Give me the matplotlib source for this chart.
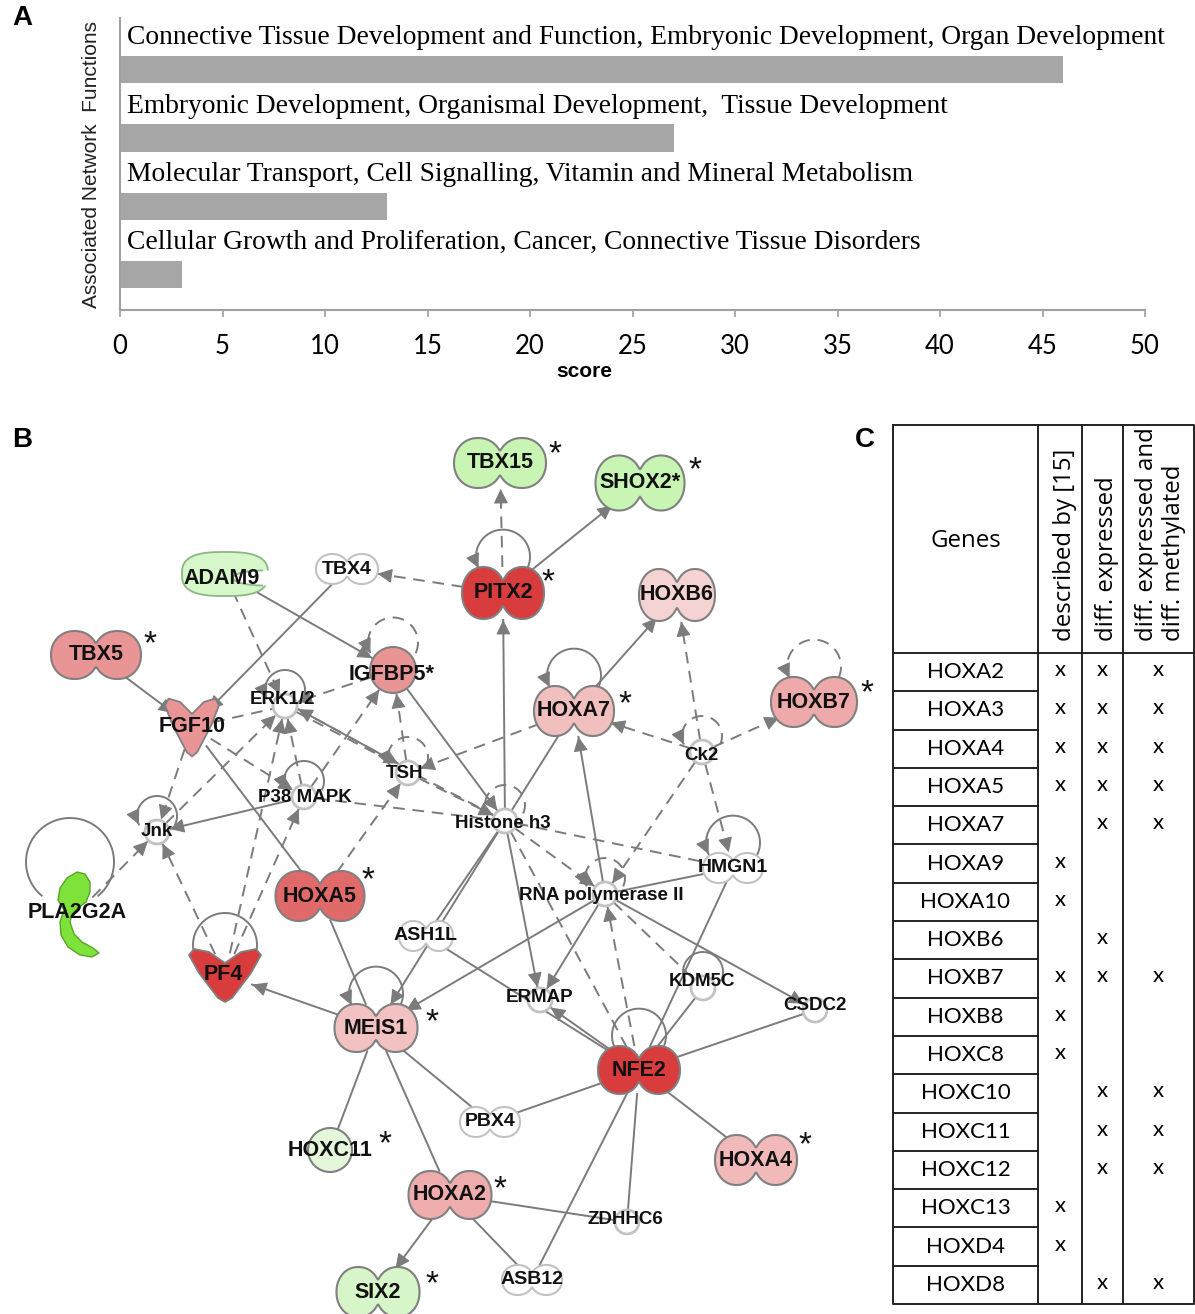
import numpy as np
import matplotlib.pyplot as plt
from matplotlib.patches import Circle, Polygon, Ellipse, Arc, FancyArrowPatch

# ---------------- panel A data ----------------
functions = ["Connective Tissue Development and Function, Embryonic Development, Organ Development",
             "Embryonic Development, Organismal Development,  Tissue Development",
             "Molecular Transport, Cell Signalling, Vitamin and Mineral Metabolism",
             "Cellular Growth and Proliferation, Cancer, Connective Tissue Disorders"]
scores = [46, 27, 13, 3]
score_ticks = [0, 5, 10, 15, 20, 25, 30, 35, 40, 45, 50]

# ---------------- panel B data (network layout in pixel units) ----------------
node_names = ["TBX15", "SHOX2", "ADAM9", "TBX4", "PITX2", "HOXB6", "TBX5", "FGF10",
              "ERK1/2", "IGFBP5", "HOXA7", "HOXB7", "Ck2", "TSH", "P38 MAPK", "Jnk",
              "Histone h3", "HMGN1", "PLA2G2A", "HOXA5", "RNA polymerase II", "ASH1L",
              "PF4", "KDM5C", "ERMAP", "CSDC2", "MEIS1", "NFE2", "PBX4", "HOXC11",
              "HOXA4", "HOXA2", "ZDHHC6", "SIX2", "ASB12"]
node_labels = {"SHOX2": "SHOX2*", "IGFBP5": "IGFBP5*"}
node_x = [500, 640, 225, 347, 503, 677, 96, 192,
          285, 393, 574, 814, 702, 408, 304, 157,
          505, 733, 78, 320, 605, 426,
          225, 703, 540, 815, 376, 639, 490, 330,
          756, 450, 627, 378, 532]
node_y = [463, 483, 574, 569, 593, 595, 655, 727,
          706, 670, 711, 702, 752, 773, 797, 832,
          821, 868, 912, 896, 894, 936,
          975, 988, 1000, 1010, 1028, 1070, 1122, 1150,
          1160, 1195, 1222, 1292, 1280]
node_fill = ["#c8f4b4", "#c8f4b4", "#d6f7ca", "white", "#d93c3c", "#f5d3d3", "#ea9595", "#ea9595",
             "white", "#ea9595", "#f2bfbf", "#eeaaaa", "white", "white", "white", "white",
             "white", "white", "#7ee23a", "#e06a6a", "white", "white",
             "#d93c3c", "white", "white", "white", "#f2c2c2", "#d93c3c", "white", "#e4f7da",
             "#f1b9b9", "#eeacac", "white", "#d6f5c8", "white"]
star_nodes = ["TBX15", "SHOX2", "PITX2", "TBX5", "HOXA7", "HOXB7", "HOXA5", "MEIS1",
              "HOXC11", "HOXA4", "HOXA2", "SIX2"]
star_x = [555, 695, 548, 150, 625, 867, 368, 432, 385, 805, 500, 432]
star_y = [447, 463, 575, 637, 697, 686, 873, 1015, 1137, 1138, 1182, 1277]

# (source, target, dashed, arrow)
edges = [("PITX2", "TBX15", 1, 1), ("PITX2", "SHOX2", 0, 1), ("PITX2", "TBX4", 1, 1),
         ("Histone h3", "PITX2", 0, 1), ("HOXA7", "HOXB6", 0, 1), ("Ck2", "HOXB6", 1, 1),
         ("Ck2", "HOXA7", 1, 1), ("Ck2", "HOXB7", 1, 1), ("Ck2", "HMGN1", 1, 1),
         ("Ck2", "RNA polymerase II", 1, 1), ("HOXA7", "TSH", 1, 1), ("HOXA7", "Histone h3", 0, 0),
         ("RNA polymerase II", "HOXA7", 0, 1), ("IGFBP5", "Histone h3", 0, 1),
         ("ADAM9", "IGFBP5", 0, 1), ("ADAM9", "ERK1/2", 1, 1), ("TBX4", "FGF10", 0, 1),
         ("TBX5", "FGF10", 0, 1), ("FGF10", "ERK1/2", 1, 0), ("FGF10", "Jnk", 1, 1),
         ("FGF10", "P38 MAPK", 1, 1), ("HOXA5", "FGF10", 0, 0), ("IGFBP5", "ERK1/2", 1, 1),
         ("TSH", "ERK1/2", 0, 1), ("ERK1/2", "TSH", 1, 1), ("P38 MAPK", "ERK1/2", 1, 1),
         ("P38 MAPK", "Jnk", 0, 1), ("P38 MAPK", "IGFBP5", 1, 1), ("TSH", "IGFBP5", 1, 1),
         ("TSH", "Histone h3", 1, 1), ("P38 MAPK", "Histone h3", 1, 0), ("Jnk", "ERK1/2", 1, 1),
         ("PLA2G2A", "Jnk", 1, 1), ("PF4", "Jnk", 1, 1), ("PF4", "ERK1/2", 1, 1),
         ("PF4", "P38 MAPK", 1, 1), ("HOXA5", "TSH", 1, 1), ("HOXA5", "MEIS1", 0, 0),
         ("MEIS1", "PF4", 0, 1), ("Histone h3", "MEIS1", 0, 1), ("Histone h3", "ASH1L", 0, 0),
         ("ASH1L", "NFE2", 0, 0), ("RNA polymerase II", "MEIS1", 0, 1),
         ("Histone h3", "ERMAP", 0, 1), ("RNA polymerase II", "ERMAP", 0, 1),
         ("NFE2", "ERMAP", 0, 1), ("NFE2", "RNA polymerase II", 1, 1), ("Histone h3", "NFE2", 1, 0),
         ("NFE2", "KDM5C", 0, 0), ("HMGN1", "NFE2", 0, 0), ("NFE2", "CSDC2", 0, 0),
         ("NFE2", "PBX4", 0, 0), ("NFE2", "HOXA4", 0, 0), ("NFE2", "ZDHHC6", 0, 0),
         ("NFE2", "ASB12", 0, 0), ("RNA polymerase II", "CSDC2", 0, 1),
         ("RNA polymerase II", "KDM5C", 1, 0), ("RNA polymerase II", "HMGN1", 0, 0),
         ("Histone h3", "HMGN1", 1, 0), ("Histone h3", "RNA polymerase II", 1, 1),
         ("MEIS1", "PBX4", 0, 0), ("MEIS1", "HOXC11", 0, 0), ("MEIS1", "HOXA2", 0, 0),
         ("HOXA2", "SIX2", 0, 1), ("HOXA2", "ZDHHC6", 0, 0), ("HOXA2", "ASB12", 0, 0),
         ("ERK1/2", "Histone h3", 1, 0)]

# self loops: (node, dashed, arrow)
loops = [("PITX2", 0, 1), ("HOXA7", 0, 1), ("HOXB7", 1, 1), ("IGFBP5", 1, 1), ("ERK1/2", 0, 1),
         ("TSH", 1, 1), ("P38 MAPK", 0, 1), ("Jnk", 0, 1), ("Ck2", 1, 1), ("Histone h3", 1, 0),
         ("RNA polymerase II", 1, 1), ("HMGN1", 0, 1), ("KDM5C", 0, 0), ("NFE2", 0, 0),
         ("MEIS1", 0, 1), ("PLA2G2A", 0, 0), ("PF4", 0, 0)]

# ---------------- panel C data ----------------
genes = ["HOXA2", "HOXA3", "HOXA4", "HOXA5", "HOXA7", "HOXA9", "HOXA10", "HOXB6", "HOXB7",
         "HOXB8", "HOXC8", "HOXC10", "HOXC11", "HOXC12", "HOXC13", "HOXD4", "HOXD8"]
described = [1, 1, 1, 1, 0, 1, 1, 0, 1, 1, 1, 0, 0, 0, 1, 1, 0]
diff_expr = [1, 1, 1, 1, 1, 0, 0, 1, 1, 0, 0, 1, 1, 1, 0, 0, 1]
diff_expr_meth = [1, 1, 1, 1, 1, 0, 0, 0, 1, 0, 0, 1, 1, 1, 0, 0, 1]
col_titles = ["described by [15]", "diff. expressed", "diff. expressed and\ndiff. methylated"]

# ---------------- styles ----------------
node_shape = {"TBX15": ("dumb", 92, 50), "SHOX2": ("dumb", 89, 55), "ADAM9": ("adam", 86, 44),
              "TBX4": ("dumb", 62, 30), "PITX2": ("dumb", 82, 52), "HOXB6": ("dumb", 76, 52),
              "TBX5": ("dumb", 90, 48), "FGF10": ("v", 54, 60), "IGFBP5": ("circ", 23, 23),
              "HOXA7": ("dumb", 80, 50), "HOXB7": ("dumb", 86, 50), "HMGN1": ("dumb", 60, 30),
              "PLA2G2A": ("pla", 40, 80), "HOXA5": ("dumb", 89, 50), "ASH1L": ("dumb", 54, 30),
              "PF4": ("v", 72, 55), "MEIS1": ("dumb", 83, 48), "NFE2": ("dumb", 82, 48),
              "PBX4": ("dumb", 60, 30), "HOXC11": ("circ", 22, 22), "HOXA4": ("dumb", 82, 50),
              "HOXA2": ("dumb", 83, 48), "SIX2": ("dumb", 83, 50), "ASB12": ("dumb", 60, 30)}
label_shift = {"ERK1/2": (-2, -6), "TSH": (-3, 1), "P38 MAPK": (1, 1), "Histone h3": (-2, 2),
               "Ck2": (-1, 3), "RNA polymerase II": (-4, 2), "KDM5C": (-1, -6), "ERMAP": (0, -3),
               "CSDC2": (0, -5), "ZDHHC6": (-2, -2), "ADAM9": (-3, 4), "PLA2G2A": (-1, 0),
               "IGFBP5": (-1, 5), "PF4": (-2, 0), "FGF10": (0, -1)}
EDGE = "#7b7b7b"
OUTL = "#808080"
WOUTL = "#c2c2c2"
SANS = "Liberation Sans"

fig = plt.figure(figsize=(11.95, 13.14), dpi=100)

# ================= panels B and C on a pixel canvas =================
ax = fig.add_axes([0, 0, 1, 1])
ax.set_xlim(0, 1195)
ax.set_ylim(1314, 0)
ax.axis("off")

idx = {n: i for i, n in enumerate(node_names)}


def shape_of(n):
    return node_shape.get(n, ("circ", 12, 12))


def extent(n, ux, uy):
    kind, w, h = shape_of(n)
    if kind == "circ":
        return w
    a, b = w / 2, h / 2
    if kind in ("v", "pla", "adam"):
        a, b = a * 0.8, b * 0.8
    return a * b / np.hypot(b * ux, a * uy)


def superellipse(x, y, w, h, n):
    t = np.linspace(0, 2 * np.pi, 200)
    c, s = np.cos(t), np.sin(t)
    px = w / 2 * np.sign(c) * np.abs(c) ** (2 / n)
    py = h / 2 * np.sign(s) * np.abs(s) ** (2 / n)
    return np.c_[px + x, py + y]


def dumbbell(x, y, w, h, n=2.1, k=8):
    # two rounded lobes merged with a smooth waist
    b = h / 2
    a = w / 2 / 1.9
    dx = w / 2 - a
    xs = w / 2 * np.sin(np.linspace(-np.pi / 2, np.pi / 2, 181))
    lobes = []
    for cx in (-dx, dx):
        t = np.clip(1 - np.abs((xs - cx) / a) ** n, 0, None)
        lobes.append(b * t ** (1 / n))
    top = (lobes[0] ** k + lobes[1] ** k) ** (1 / k)
    top = np.minimum(top, b)
    pts = np.concatenate([np.c_[xs, -top], np.c_[xs[::-1], top[::-1]]])
    return pts + np.array([x, y])


def arrowhead(tip, u):
    tail = tip - u * 12
    ax.add_patch(FancyArrowPatch(tuple(tail), tuple(tip),
                                 arrowstyle="-|>,head_length=0.65,head_width=0.32",
                                 mutation_scale=14, color=EDGE, lw=0.8,
                                 shrinkA=0, shrinkB=0, zorder=2))


pair_count = {}
for s, d, _, _ in edges:
    k = frozenset((s, d))
    pair_count[k] = pair_count.get(k, 0) + 1
pair_seen = {}

for s, d, dashed, arrow in edges:
    p = np.array([node_x[idx[s]], node_y[idx[s]]], float)
    q = np.array([node_x[idx[d]], node_y[idx[d]]], float)
    u = (q - p) / np.linalg.norm(q - p)
    k = frozenset((s, d))
    if pair_count[k] > 1:
        sign = 1 if pair_seen.get(k, 0) == 0 else -1
        pair_seen[k] = 1
        nrm = np.array([-u[1], u[0]]) * 3.5 * sign
        p, q = p + nrm, q + nrm
    a = p + u * extent(s, *u)
    b = q - u * (extent(d, *u) + 1)
    ls = (0, (6, 4)) if dashed else "-"
    ax.plot([a[0], b[0]], [a[1], b[1]], color=EDGE, lw=1.4, ls=ls, zorder=1)
    if arrow:
        arrowhead(b, u)

for n, dashed, arrow in loops:
    kind, w, h = shape_of(n)
    x, y = node_x[idx[n]], node_y[idx[n]]
    t0, t1 = -25, 205
    if kind == "dumb":
        r = 27
        off = h / 2 + 0.42 * r - 1
    elif kind == "circ" and w > 15:
        r = 25
        off = w + 0.42 * r - 6
    elif kind == "pla":
        r, off = 44, 50
        x -= 8
        t0, t1 = -50, 230
    elif kind == "v":
        r, off = 32, 30
    else:
        r, off = 20, 16
    cx, cy = x, y - off
    t = np.radians(np.linspace(t0, t1, 80))
    px, py = cx + r * np.cos(t), cy - r * np.sin(t)
    ls = (0, (6, 4)) if dashed else "-"
    ax.plot(px, py, color=EDGE, lw=1.4, ls=ls, zorder=1)
    if arrow:
        tip = np.array([px[-1], py[-1]])
        tv = np.array([-np.sin(t[-1]), -np.cos(t[-1])])
        arrowhead(tip, tv / np.linalg.norm(tv))

v_poly = np.array([(-36, -20), (-31, -26), (-16, -23), (0, -12), (16, -23), (31, -26),
                   (36, -20), (26, -2), (7, 23), (0, 27), (-7, 23), (-26, -2)], float)
pla_poly = np.array([(-1, -40), (7, -38), (12, -30), (12, -20), (8, -10), (0, -4), (-6, 2),
                     (-8, 10), (-4, 22), (4, 30), (15, 36), (21, 41), (14, 45), (2, 43),
                     (-10, 35), (-17, 23), (-18, 10), (-14, -2), (-20, -12), (-18, -24),
                     (-11, -34)], float)

for i, n in enumerate(node_names):
    x, y, fc = node_x[i], node_y[i], node_fill[i]
    kind, w, h = shape_of(n)
    ec = WOUTL if fc == "white" else OUTL
    if kind == "dumb":
        ax.add_patch(Polygon(dumbbell(x, y, w, h), closed=True, fc=fc, ec=ec, lw=1.5, zorder=3))
    elif kind == "circ":
        ax.add_patch(Circle((x, y), w, fc=fc, ec=ec, lw=1.5 if w > 15 else 2.0, zorder=3))
    elif kind == "v":
        pts = v_poly * np.array([w / 72, h / 55]) + np.array([x, y])
        ax.add_patch(Polygon(pts, closed=True, fc=fc, ec=OUTL, lw=1.3, joinstyle="round", zorder=3))
    elif kind == "adam":
        ax.add_patch(Polygon(superellipse(x, y, w, h, 2.8), closed=True, fc=fc, ec="#8fb585",
                             lw=1.3, zorder=3))
        ax.add_patch(Ellipse((x + 38, y + 4), 60, 15, fc="white", ec="none", zorder=3.1))
        ax.add_patch(Arc((x + 38, y + 4), 60, 15, theta1=90, theta2=270, color="#8fb585",
                         lw=1.3, zorder=3.2))
    elif kind == "pla":
        ax.add_patch(Polygon(pla_poly + np.array([x, y]), closed=True, fc=fc, ec="#5aa32a",
                             lw=1, joinstyle="round", zorder=3))
    dx_l, dy_l = label_shift.get(n, (0, 0))
    if fc == "white" and kind == "circ":
        fs = 13.5
    elif fc == "white":
        fs = 14
    else:
        fs = 15.5
    ax.text(x + dx_l, y + dy_l, node_labels.get(n, n), family=SANS, weight="bold",
            fontsize=fs, ha="center", va="center", color="#111", zorder=5)

for n, sx, sy in zip(star_nodes, star_x, star_y):
    ax.text(sx, sy + 8, "*", family=SANS, fontsize=24, ha="center", va="center", color="#111", zorder=5)

# panel letters
for lt, lx, ly in [("A", 22, 18), ("B", 22, 440), ("C", 865, 440)]:
    ax.text(lx, ly, lt, family=SANS, weight="bold", fontsize=20, ha="center", va="center")

# ---------------- table (panel C) ----------------
tx0, tx1 = 893, 1194
cols = [1038, 1082, 1123]
ty0, thead, ty1 = 425, 653, 1304
rh = (ty1 - thead) / len(genes)
lk = dict(color="#222", lw=1.4, zorder=2)
ax.plot([tx0, tx1, tx1, tx0, tx0], [ty0, ty0, ty1, ty1, ty0], **lk)
ax.plot([tx0, tx1], [thead, thead], **lk)
for cx in cols:
    ax.plot([cx, cx], [ty0, ty1], **lk)
for r in range(1, len(genes)):
    ax.plot([tx0, cols[0]], [thead + r * rh] * 2, **lk)
TF = "Lato"
HF = "Open Sans"
ax.text((tx0 + cols[0]) / 2, 541, "Genes", family=HF, fontsize=17.3, ha="center", va="center")
col_centers = [(cols[0] + cols[1]) / 2, (cols[1] + cols[2]) / 2, (cols[2] + tx1) / 2]
for cx, title, sh in zip(col_centers, col_titles, (5, 5, 2)):
    ax.text(cx + sh, 641, title, family=HF, fontsize=17.3, rotation=90, rotation_mode="anchor",
            ha="left", va="center", multialignment="left", linespacing=1.15)
for r, g in enumerate(genes):
    yc = thead + (r + 0.5) * rh
    ax.text((tx0 + cols[0]) / 2, yc, g, family=TF, fontsize=16, ha="center", va="center")
    for cx, flag in zip(col_centers, (described[r], diff_expr[r], diff_expr_meth[r])):
        if flag:
            ax.text(cx, yc - 2, "x", family=TF, fontsize=16, ha="center", va="center")

# ================= panel A =================
axA = fig.add_axes([120 / 1195, 1 - 310 / 1314, (1145 - 120) / 1195, 292 / 1314])
axA.barh(range(len(scores)), scores, height=0.4, color="#a6a6a6")
axA.set_xlim(0, 50)
axA.set_ylim(3.52, -0.76)
for i, f in enumerate(functions):
    axA.text(0.35, i - 0.47, f, family="Liberation Serif", fontsize=19.8, ha="left", va="center")
axA.set_xticks(score_ticks)
axA.set_xticklabels([str(v) for v in score_ticks], family="Lato", fontsize=18.5)
axA.set_yticks([])
axA.tick_params(axis="x", length=5, width=1.2, color="#a0a0a0", pad=12)
for sp in ("top", "right"):
    axA.spines[sp].set_visible(False)
for sp in ("left", "bottom"):
    axA.spines[sp].set_color("#a0a0a0")
    axA.spines[sp].set_linewidth(1.5)
axA.set_xlabel("score", family=SANS, weight="bold", fontsize=15)
axA.xaxis.set_label_coords((584 - 120) / 1025, (310 - 362) / 292)
axA.set_ylabel("Associated Network  Functions", family=SANS, fontsize=15, color="#222")
axA.yaxis.set_label_coords(-19 / 1025, 0.5)
axA.patch.set_alpha(0)

fig.savefig("out.png", dpi=100)
